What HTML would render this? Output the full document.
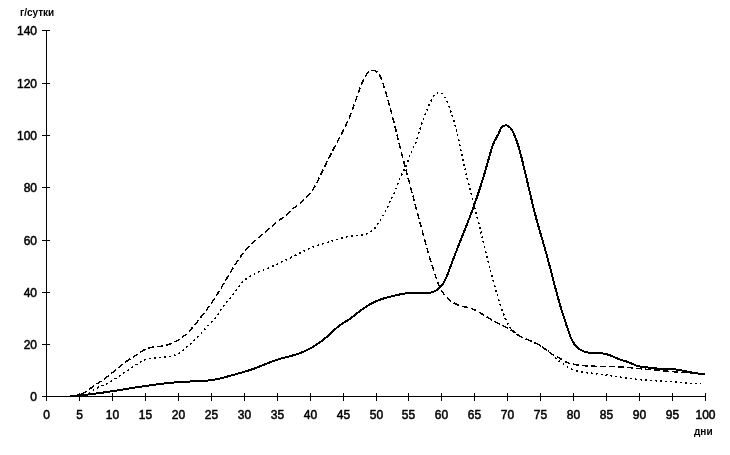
<!DOCTYPE html>
<html><head><meta charset="utf-8"><style>
html,body{margin:0;padding:0;background:#fff;}
body{width:730px;height:455px;position:relative;overflow:hidden;font-family:"Liberation Sans",sans-serif;color:#000;}
.yl{position:absolute;left:0;width:37px;text-align:right;font-size:12px;line-height:14px;-webkit-text-stroke:0.5px #000;}
.xl{position:absolute;top:408px;width:31px;text-align:center;font-size:12px;line-height:14px;-webkit-text-stroke:0.5px #000;}
.t{position:absolute;font-weight:bold;font-size:10px;line-height:12px;}
svg{position:absolute;left:0;top:0;}
.lab{position:absolute;left:0;top:0;width:730px;height:455px;will-change:transform;}
</style></head><body>
<svg width="730" height="455" viewBox="0 0 730 455">
<g stroke="#000" stroke-width="1" fill="none" shape-rendering="crispEdges">
<line x1="46.5" y1="30" x2="46.5" y2="397"/>
<line x1="46" y1="396.5" x2="706" y2="396.5"/>
<line x1="42" y1="30.5" x2="50" y2="30.5"/><line x1="42" y1="83.5" x2="50" y2="83.5"/><line x1="42" y1="135.5" x2="50" y2="135.5"/><line x1="42" y1="187.5" x2="50" y2="187.5"/><line x1="42" y1="240.5" x2="50" y2="240.5"/><line x1="42" y1="292.5" x2="50" y2="292.5"/><line x1="42" y1="344.5" x2="50" y2="344.5"/><line x1="42" y1="396.5" x2="46" y2="396.5"/><line x1="46.5" y1="393" x2="46.5" y2="401"/><line x1="79.5" y1="393" x2="79.5" y2="401"/><line x1="112.5" y1="393" x2="112.5" y2="401"/><line x1="145.5" y1="393" x2="145.5" y2="401"/><line x1="178.5" y1="393" x2="178.5" y2="401"/><line x1="211.5" y1="393" x2="211.5" y2="401"/><line x1="244.5" y1="393" x2="244.5" y2="401"/><line x1="277.5" y1="393" x2="277.5" y2="401"/><line x1="310.5" y1="393" x2="310.5" y2="401"/><line x1="343.5" y1="393" x2="343.5" y2="401"/><line x1="376.5" y1="393" x2="376.5" y2="401"/><line x1="408.5" y1="393" x2="408.5" y2="401"/><line x1="441.5" y1="393" x2="441.5" y2="401"/><line x1="474.5" y1="393" x2="474.5" y2="401"/><line x1="507.5" y1="393" x2="507.5" y2="401"/><line x1="540.5" y1="393" x2="540.5" y2="401"/><line x1="573.5" y1="393" x2="573.5" y2="401"/><line x1="606.5" y1="393" x2="606.5" y2="401"/><line x1="639.5" y1="393" x2="639.5" y2="401"/><line x1="672.5" y1="393" x2="672.5" y2="401"/><line x1="705.5" y1="393" x2="705.5" y2="401"/>
</g>
<g fill="none" stroke="#000" stroke-width="2" stroke-linejoin="round" shape-rendering="crispEdges">
<path d="M69.99,395.95 L71.49,395.87 L72.99,395.79 L74.50,395.69 L76.00,395.59 L77.50,395.48 L79.00,395.36 L80.49,395.23 L81.99,395.10 L83.49,394.96 L84.99,394.81 L86.48,394.65 L87.98,394.49 L89.47,394.33 L90.97,394.15 L92.46,393.97 L93.96,393.79 L95.45,393.60 L96.94,393.41 L98.43,393.21 L99.92,393.01 L101.41,392.80 L102.90,392.59 L104.39,392.38 L105.88,392.16 L107.37,391.94 L108.85,391.72 L110.34,391.49 L111.83,391.26 L113.32,391.03 L114.80,390.80 L116.29,390.57 L117.77,390.33 L119.26,390.10 L120.75,389.86 L122.23,389.62 L123.72,389.38 L125.20,389.14 L126.69,388.90 L128.17,388.67 L129.66,388.43 L131.14,388.19 L132.63,387.95 L134.11,387.72 L135.60,387.48 L137.09,387.25 L138.57,387.02 L140.06,386.79 L141.55,386.56 L143.03,386.33 L144.52,386.11 L146.01,385.89 L147.50,385.67 L148.99,385.45 L150.47,385.24 L151.96,385.04 L153.46,384.83 L154.95,384.63 L156.44,384.44 L157.93,384.24 L159.42,384.06 L160.92,383.87 L162.41,383.70 L163.90,383.52 L165.40,383.36 L166.89,383.19 L168.39,383.04 L169.89,382.89 L171.38,382.74 L172.88,382.60 L174.38,382.47 L175.88,382.34 L177.38,382.22 L178.88,382.11 L180.38,382.00 L181.88,381.90 L183.38,381.81 L184.88,381.73 L186.39,381.65 L187.89,381.58 L189.39,381.52 L190.90,381.46 L192.40,381.41 L193.90,381.36 L195.41,381.30 L196.91,381.25 L198.41,381.19 L199.91,381.12 L201.42,381.04 L202.92,380.95 L204.42,380.84 L205.92,380.72 L207.42,380.58 L208.91,380.42 L210.40,380.23 L211.89,380.02 L213.38,379.78 L214.86,379.52 L216.34,379.23 L217.81,378.93 L219.28,378.60 L220.74,378.26 L222.21,377.90 L223.66,377.54 L225.12,377.16 L226.57,376.77 L228.02,376.37 L229.47,375.97 L230.92,375.56 L232.37,375.15 L233.82,374.75 L235.27,374.34 L236.71,373.93 L238.16,373.53 L239.61,373.12 L241.06,372.70 L242.50,372.29 L243.95,371.86 L245.39,371.43 L246.83,370.99 L248.26,370.55 L249.70,370.09 L251.12,369.62 L252.55,369.14 L253.97,368.64 L255.39,368.13 L256.80,367.61 L258.20,367.07 L259.60,366.52 L261.00,365.97 L262.39,365.40 L263.79,364.84 L265.18,364.27 L266.58,363.71 L267.97,363.15 L269.37,362.59 L270.77,362.05 L272.18,361.51 L273.59,360.99 L275.01,360.49 L276.43,360.00 L277.86,359.54 L279.30,359.10 L280.74,358.68 L282.19,358.27 L283.64,357.87 L285.09,357.47 L286.55,357.09 L288.00,356.70 L289.45,356.31 L290.91,355.92 L292.36,355.51 L293.80,355.09 L295.24,354.66 L296.67,354.20 L298.10,353.72 L299.52,353.22 L300.92,352.69 L302.32,352.13 L303.71,351.54 L305.08,350.93 L306.44,350.30 L307.80,349.64 L309.13,348.95 L310.46,348.24 L311.78,347.51 L313.08,346.75 L314.36,345.97 L315.64,345.18 L316.90,344.36 L318.15,343.51 L319.38,342.65 L320.60,341.77 L321.81,340.87 L323.00,339.95 L324.17,339.02 L325.34,338.06 L326.48,337.09 L327.62,336.10 L328.74,335.10 L329.85,334.08 L330.95,333.06 L332.05,332.04 L333.16,331.02 L334.27,330.00 L335.39,329.00 L336.53,328.01 L337.68,327.05 L338.85,326.10 L340.05,325.19 L341.27,324.32 L342.53,323.48 L343.80,322.68 L345.08,321.89 L346.36,321.11 L347.65,320.33 L348.92,319.52 L350.17,318.68 L351.39,317.80 L352.58,316.89 L353.76,315.95 L354.92,315.00 L356.08,314.04 L357.26,313.10 L358.44,312.17 L359.63,311.26 L360.84,310.36 L362.06,309.47 L363.28,308.60 L364.53,307.75 L365.78,306.92 L367.05,306.11 L368.33,305.33 L369.63,304.56 L370.94,303.82 L372.26,303.11 L373.60,302.43 L374.96,301.78 L376.33,301.15 L377.71,300.56 L379.11,300.01 L380.52,299.49 L381.94,298.99 L383.37,298.53 L384.81,298.09 L386.25,297.67 L387.70,297.27 L389.16,296.89 L390.62,296.52 L392.08,296.17 L393.54,295.83 L395.01,295.49 L396.48,295.16 L397.95,294.84 L399.42,294.53 L400.90,294.23 L402.37,293.95 L403.86,293.70 L405.34,293.46 L406.83,293.26 L408.33,293.08 L409.82,292.93 L411.32,292.82 L412.82,292.74 L414.33,292.70 L415.83,292.70 L417.34,292.74 L418.84,292.81 L420.34,292.89 L421.84,292.97 L423.35,293.04 L424.85,293.08 L426.35,293.07 L427.86,293.00 L429.35,292.85 L430.84,292.59 L432.29,292.22 L433.71,291.70 L435.06,291.06 L436.36,290.30 L437.59,289.44 L438.76,288.49 L439.86,287.46 L440.89,286.37 L441.86,285.21 L442.75,284.00 L443.58,282.75 L444.35,281.46 L445.06,280.13 L445.73,278.78 L446.35,277.41 L446.93,276.03 L447.49,274.63 L448.02,273.22 L448.54,271.81 L449.06,270.40 L449.58,268.98 L450.10,267.57 L450.62,266.16 L451.14,264.75 L451.67,263.34 L452.20,261.94 L452.73,260.53 L453.27,259.12 L453.81,257.72 L454.35,256.31 L454.89,254.91 L455.43,253.51 L455.97,252.10 L456.52,250.70 L457.07,249.30 L457.62,247.90 L458.17,246.50 L458.72,245.10 L459.27,243.70 L459.83,242.30 L460.38,240.91 L460.94,239.51 L461.49,238.11 L462.05,236.71 L462.60,235.31 L463.16,233.92 L463.71,232.52 L464.27,231.12 L464.82,229.72 L465.37,228.32 L465.93,226.92 L466.48,225.52 L467.02,224.12 L467.57,222.72 L468.11,221.32 L468.66,219.91 L469.20,218.51 L469.74,217.11 L470.27,215.70 L470.80,214.29 L471.33,212.88 L471.86,211.47 L472.38,210.06 L472.90,208.65 L473.41,207.24 L473.92,205.82 L474.43,204.41 L474.93,202.99 L475.43,201.57 L475.92,200.15 L476.41,198.73 L476.90,197.30 L477.39,195.88 L477.87,194.45 L478.34,193.03 L478.82,191.60 L479.29,190.17 L479.75,188.74 L480.21,187.31 L480.67,185.88 L481.13,184.44 L481.58,183.01 L482.03,181.57 L482.48,180.13 L482.92,178.70 L483.36,177.26 L483.80,175.82 L484.23,174.38 L484.66,172.94 L485.09,171.50 L485.52,170.05 L485.94,168.61 L486.36,167.16 L486.78,165.72 L487.19,164.27 L487.60,162.83 L488.01,161.38 L488.42,159.93 L488.82,158.48 L489.23,157.03 L489.63,155.58 L490.03,154.13 L490.44,152.69 L490.87,151.24 L491.30,149.80 L491.76,148.37 L492.24,146.94 L492.75,145.53 L493.29,144.12 L493.86,142.73 L494.47,141.36 L495.13,140.00 L495.82,138.67 L496.57,137.36 L497.33,136.07 L498.08,134.76 L498.75,133.42 L499.31,132.02 L499.82,130.61 L500.42,129.23 L501.20,127.94 L502.23,126.85 L503.46,125.99 L504.85,125.45 L506.35,125.38 L507.77,125.83 L509.04,126.65 L510.13,127.67 L511.08,128.84 L511.90,130.10 L512.62,131.42 L513.28,132.77 L513.90,134.14 L514.51,135.52 L515.09,136.91 L515.64,138.30 L516.18,139.71 L516.70,141.12 L517.19,142.54 L517.67,143.97 L518.14,145.40 L518.58,146.84 L519.02,148.28 L519.43,149.72 L519.84,151.17 L520.24,152.62 L520.62,154.07 L521.00,155.53 L521.38,156.99 L521.74,158.45 L522.10,159.91 L522.46,161.37 L522.82,162.83 L523.17,164.29 L523.53,165.75 L523.88,167.22 L524.23,168.68 L524.58,170.14 L524.93,171.61 L525.27,173.07 L525.62,174.53 L525.97,176.00 L526.31,177.46 L526.66,178.93 L527.00,180.39 L527.35,181.85 L527.69,183.32 L528.03,184.78 L528.38,186.25 L528.72,187.71 L529.06,189.18 L529.40,190.64 L529.75,192.11 L530.09,193.57 L530.44,195.04 L530.78,196.50 L531.13,197.96 L531.48,199.43 L531.83,200.89 L532.19,202.35 L532.54,203.81 L532.90,205.27 L533.26,206.74 L533.62,208.20 L533.98,209.65 L534.35,211.11 L534.72,212.57 L535.10,214.03 L535.47,215.48 L535.86,216.94 L536.24,218.39 L536.63,219.85 L537.02,221.30 L537.42,222.75 L537.82,224.20 L538.23,225.65 L538.64,227.09 L539.05,228.54 L539.47,229.99 L539.89,231.43 L540.31,232.88 L540.73,234.32 L541.16,235.76 L541.58,237.21 L542.01,238.65 L542.43,240.09 L542.86,241.53 L543.28,242.98 L543.70,244.42 L544.12,245.87 L544.54,247.31 L544.96,248.76 L545.37,250.20 L545.78,251.65 L546.18,253.10 L546.58,254.55 L546.98,256.00 L547.37,257.45 L547.77,258.91 L548.16,260.36 L548.55,261.81 L548.93,263.27 L549.32,264.72 L549.70,266.18 L550.08,267.63 L550.46,269.09 L550.84,270.54 L551.21,272.00 L551.59,273.45 L551.97,274.91 L552.35,276.37 L552.72,277.82 L553.10,279.28 L553.48,280.74 L553.86,282.19 L554.24,283.65 L554.62,285.10 L555.00,286.56 L555.38,288.01 L555.77,289.47 L556.15,290.92 L556.54,292.37 L556.94,293.83 L557.33,295.28 L557.73,296.73 L558.13,298.18 L558.53,299.63 L558.94,301.07 L559.35,302.52 L559.77,303.97 L560.19,305.41 L560.61,306.86 L561.04,308.30 L561.47,309.74 L561.91,311.18 L562.35,312.61 L562.80,314.05 L563.26,315.48 L563.72,316.92 L564.19,318.35 L564.66,319.78 L565.13,321.20 L565.61,322.63 L566.09,324.05 L566.57,325.48 L567.05,326.91 L567.53,328.33 L568.00,329.76 L568.47,331.19 L568.95,332.62 L569.44,334.04 L569.95,335.45 L570.50,336.85 L571.08,338.24 L571.71,339.60 L572.40,340.94 L573.16,342.24 L573.98,343.50 L574.88,344.70 L575.86,345.85 L576.92,346.92 L578.04,347.92 L579.22,348.85 L580.47,349.69 L581.77,350.45 L583.12,351.11 L584.51,351.67 L585.95,352.12 L587.41,352.47 L588.89,352.73 L590.39,352.91 L591.89,353.02 L593.39,353.09 L594.89,353.12 L596.40,353.14 L597.90,353.17 L599.41,353.21 L600.91,353.28 L602.41,353.41 L603.90,353.61 L605.37,353.89 L606.83,354.27 L608.27,354.72 L609.68,355.23 L611.08,355.78 L612.47,356.37 L613.85,356.96 L615.23,357.56 L616.62,358.14 L618.01,358.70 L619.42,359.22 L620.85,359.71 L622.28,360.18 L623.71,360.64 L625.14,361.10 L626.57,361.56 L627.99,362.05 L629.41,362.56 L630.81,363.11 L632.19,363.71 L633.55,364.35 L634.91,365.00 L636.29,365.60 L637.71,366.10 L639.17,366.44 L640.66,366.65 L642.16,366.79 L643.66,366.91 L645.15,367.05 L646.65,367.24 L648.13,367.48 L649.62,367.72 L651.10,367.95 L652.60,368.13 L654.09,368.29 L655.59,368.40 L657.09,368.50 L658.60,368.57 L660.10,368.62 L661.60,368.66 L663.11,368.70 L664.61,368.73 L666.12,368.77 L667.62,368.83 L669.12,368.89 L670.62,368.98 L672.12,369.09 L673.62,369.23 L675.12,369.41 L676.61,369.61 L678.09,369.84 L679.58,370.09 L681.06,370.36 L682.53,370.64 L684.01,370.93 L685.48,371.23 L686.96,371.53 L688.43,371.83 L689.91,372.13 L691.38,372.42 L692.86,372.70 L694.34,372.96 L695.83,373.20 L697.31,373.42 L698.81,373.62 L700.30,373.78 L701.80,373.92 L703.30,374.01 L704.80,374.07"/>
<path d="M73.00,395.60 L74.50,395.74 L76.00,395.72 L77.49,395.54 L78.95,395.22 L80.38,394.74 L81.76,394.15 L83.09,393.45 L84.38,392.68 L85.63,391.85 L86.86,390.98 L88.07,390.10 L89.28,389.20 L90.50,388.32 L91.73,387.46 L92.96,386.60 L94.21,385.76 L95.45,384.92 L96.71,384.09 L97.96,383.26 L99.21,382.43 L100.46,381.59 L101.70,380.75 L102.94,379.90 L104.16,379.03 L105.38,378.15 L106.58,377.25 L107.77,376.33 L108.96,375.40 L110.13,374.46 L111.30,373.51 L112.46,372.56 L113.61,371.60 L114.77,370.64 L115.92,369.68 L117.08,368.72 L118.23,367.76 L119.39,366.80 L120.56,365.86 L121.74,364.92 L122.92,364.00 L124.12,363.09 L125.32,362.19 L126.54,361.31 L127.78,360.46 L129.03,359.63 L130.29,358.81 L131.57,358.02 L132.85,357.23 L134.13,356.44 L135.40,355.65 L136.67,354.84 L137.92,354.00 L139.16,353.15 L140.39,352.30 L141.64,351.46 L142.91,350.65 L144.20,349.90 L145.54,349.22 L146.93,348.64 L148.35,348.16 L149.81,347.77 L151.28,347.47 L152.76,347.22 L154.25,347.02 L155.74,346.85 L157.24,346.69 L158.73,346.54 L160.22,346.37 L161.71,346.18 L163.20,345.95 L164.67,345.66 L166.14,345.32 L167.58,344.92 L169.02,344.47 L170.43,343.96 L171.83,343.41 L173.21,342.81 L174.56,342.16 L175.89,341.46 L177.20,340.72 L178.49,339.95 L179.75,339.13 L180.98,338.27 L182.19,337.37 L183.37,336.45 L184.53,335.49 L185.66,334.50 L186.76,333.48 L187.85,332.44 L188.91,331.38 L189.96,330.30 L190.98,329.20 L191.99,328.09 L192.98,326.96 L193.96,325.82 L194.93,324.67 L195.88,323.51 L196.83,322.34 L197.77,321.17 L198.70,319.99 L199.63,318.81 L200.55,317.63 L201.48,316.44 L202.39,315.25 L203.31,314.06 L204.22,312.86 L205.12,311.66 L206.02,310.46 L206.92,309.25 L207.81,308.04 L208.69,306.83 L209.57,305.61 L210.44,304.38 L211.31,303.16 L212.17,301.92 L213.02,300.69 L213.87,299.44 L214.70,298.20 L215.53,296.94 L216.35,295.68 L217.16,294.42 L217.97,293.15 L218.76,291.88 L219.55,290.60 L220.34,289.31 L221.11,288.03 L221.88,286.74 L222.65,285.45 L223.42,284.15 L224.18,282.86 L224.94,281.56 L225.70,280.27 L226.46,278.97 L227.22,277.67 L227.98,276.38 L228.74,275.08 L229.50,273.79 L230.27,272.50 L231.04,271.21 L231.82,269.92 L232.60,268.64 L233.39,267.36 L234.19,266.09 L234.99,264.82 L235.81,263.55 L236.63,262.29 L237.46,261.04 L238.30,259.80 L239.16,258.56 L240.02,257.34 L240.90,256.12 L241.80,254.91 L242.71,253.71 L243.63,252.53 L244.57,251.36 L245.53,250.20 L246.50,249.06 L247.50,247.93 L248.51,246.82 L249.54,245.72 L250.59,244.65 L251.66,243.59 L252.74,242.56 L253.85,241.54 L254.98,240.55 L256.12,239.57 L257.27,238.60 L258.43,237.65 L259.60,236.70 L260.77,235.76 L261.94,234.82 L263.11,233.87 L264.27,232.93 L265.43,231.97 L266.59,231.01 L267.73,230.03 L268.86,229.04 L269.99,228.05 L271.11,227.05 L272.24,226.06 L273.37,225.07 L274.50,224.08 L275.65,223.11 L276.81,222.16 L277.99,221.23 L279.19,220.32 L280.41,219.44 L281.64,218.59 L282.88,217.74 L284.11,216.87 L285.31,215.96 L286.47,215.01 L287.58,214.00 L288.66,212.96 L289.73,211.90 L290.80,210.84 L291.87,209.79 L292.98,208.78 L294.12,207.80 L295.30,206.86 L296.49,205.95 L297.69,205.04 L298.89,204.14 L300.08,203.22 L301.25,202.28 L302.39,201.31 L303.52,200.31 L304.62,199.29 L305.69,198.24 L306.74,197.16 L307.76,196.06 L308.76,194.93 L309.72,193.78 L310.65,192.59 L311.54,191.39 L312.40,190.15 L313.22,188.90 L314.01,187.62 L314.77,186.32 L315.51,185.02 L316.23,183.69 L316.92,182.36 L317.61,181.02 L318.28,179.68 L318.94,178.33 L319.59,176.98 L320.25,175.63 L320.90,174.27 L321.56,172.92 L322.22,171.57 L322.87,170.22 L323.53,168.87 L324.19,167.52 L324.86,166.17 L325.52,164.82 L326.18,163.48 L326.85,162.13 L327.52,160.78 L328.19,159.44 L328.87,158.10 L329.55,156.76 L330.23,155.42 L330.91,154.08 L331.60,152.74 L332.29,151.41 L332.99,150.08 L333.69,148.75 L334.39,147.42 L335.09,146.09 L335.79,144.76 L336.50,143.44 L337.20,142.11 L337.91,140.78 L338.61,139.45 L339.32,138.13 L340.02,136.80 L340.71,135.47 L341.41,134.13 L342.09,132.80 L342.78,131.46 L343.46,130.12 L344.13,128.77 L344.79,127.43 L345.45,126.08 L346.10,124.72 L346.74,123.36 L347.38,122.00 L348.00,120.63 L348.61,119.26 L349.21,117.88 L349.79,116.50 L350.37,115.11 L350.93,113.71 L351.47,112.31 L352.00,110.91 L352.52,109.50 L353.03,108.09 L353.53,106.67 L354.03,105.25 L354.51,103.83 L355.00,102.41 L355.48,100.98 L355.96,99.56 L356.44,98.13 L356.92,96.71 L357.40,95.29 L357.89,93.87 L358.39,92.45 L358.90,91.04 L359.42,89.63 L359.94,88.22 L360.49,86.82 L361.04,85.42 L361.62,84.03 L362.21,82.65 L362.82,81.28 L363.46,79.92 L364.12,78.57 L364.82,77.24 L365.55,75.93 L366.32,74.64 L367.17,73.40 L368.18,72.29 L369.39,71.41 L370.77,70.82 L372.24,70.51 L373.74,70.51 L375.19,70.87 L376.50,71.60 L377.64,72.58 L378.60,73.73 L379.42,74.99 L380.15,76.31 L380.79,77.66 L381.39,79.04 L381.93,80.44 L382.44,81.86 L382.93,83.28 L383.39,84.71 L383.85,86.14 L384.31,87.57 L384.75,89.00 L385.20,90.44 L385.64,91.88 L386.07,93.31 L386.50,94.75 L386.92,96.20 L387.34,97.64 L387.76,99.08 L388.17,100.53 L388.58,101.97 L388.98,103.42 L389.38,104.87 L389.78,106.32 L390.17,107.77 L390.56,109.22 L390.95,110.67 L391.33,112.13 L391.71,113.58 L392.09,115.03 L392.47,116.49 L392.84,117.94 L393.21,119.40 L393.58,120.86 L393.95,122.31 L394.32,123.77 L394.68,125.23 L395.05,126.68 L395.41,128.14 L395.77,129.60 L396.13,131.06 L396.49,132.52 L396.85,133.98 L397.21,135.44 L397.57,136.90 L397.93,138.35 L398.29,139.81 L398.65,141.27 L399.01,142.73 L399.37,144.19 L399.73,145.65 L400.09,147.11 L400.46,148.56 L400.82,150.02 L401.19,151.48 L401.55,152.94 L401.92,154.39 L402.29,155.85 L402.67,157.31 L403.04,158.76 L403.41,160.22 L403.79,161.67 L404.17,163.13 L404.54,164.58 L404.92,166.03 L405.30,167.49 L405.68,168.94 L406.07,170.39 L406.45,171.85 L406.83,173.30 L407.22,174.75 L407.60,176.20 L407.99,177.66 L408.38,179.11 L408.76,180.56 L409.15,182.01 L409.54,183.46 L409.93,184.92 L410.32,186.37 L410.71,187.82 L411.09,189.27 L411.48,190.72 L411.87,192.17 L412.27,193.62 L412.66,195.07 L413.05,196.52 L413.44,197.98 L413.83,199.43 L414.22,200.88 L414.61,202.33 L415.00,203.78 L415.39,205.23 L415.77,206.68 L416.16,208.13 L416.55,209.59 L416.94,211.04 L417.33,212.49 L417.71,213.94 L418.10,215.39 L418.49,216.84 L418.87,218.30 L419.26,219.75 L419.64,221.20 L420.03,222.65 L420.42,224.11 L420.80,225.56 L421.19,227.01 L421.58,228.46 L421.97,229.91 L422.36,231.36 L422.75,232.81 L423.14,234.26 L423.53,235.71 L423.93,237.16 L424.32,238.61 L424.72,240.06 L425.12,241.51 L425.52,242.96 L425.92,244.41 L426.33,245.85 L426.73,247.30 L427.14,248.75 L427.55,250.19 L427.97,251.64 L428.38,253.08 L428.80,254.52 L429.23,255.97 L429.65,257.41 L430.08,258.85 L430.51,260.29 L430.94,261.73 L431.38,263.16 L431.82,264.60 L432.26,266.04 L432.71,267.47 L433.16,268.90 L433.62,270.33 L434.08,271.77 L434.54,273.20 L435.01,274.62 L435.48,276.05 L435.96,277.47 L436.45,278.89 L436.95,280.31 L437.48,281.72 L438.03,283.12 L438.60,284.51 L439.20,285.88 L439.83,287.25 L440.50,288.59 L441.21,289.92 L441.96,291.22 L442.76,292.49 L443.60,293.73 L444.50,294.94 L445.45,296.10 L446.46,297.22 L447.51,298.28 L448.63,299.29 L449.79,300.25 L450.99,301.15 L452.24,301.99 L453.52,302.77 L454.83,303.50 L456.18,304.16 L457.55,304.77 L458.95,305.32 L460.38,305.80 L461.82,306.22 L463.28,306.57 L464.75,306.89 L466.22,307.19 L467.69,307.50 L469.15,307.85 L470.59,308.28 L472.01,308.78 L473.40,309.34 L474.77,309.97 L476.11,310.64 L477.44,311.34 L478.75,312.08 L480.04,312.84 L481.33,313.62 L482.61,314.40 L483.89,315.19 L485.18,315.97 L486.47,316.74 L487.76,317.50 L489.06,318.26 L490.36,319.01 L491.66,319.76 L492.98,320.49 L494.29,321.22 L495.61,321.94 L496.93,322.65 L498.26,323.36 L499.59,324.05 L500.93,324.74 L502.27,325.42 L503.61,326.09 L504.96,326.76 L506.30,327.42 L507.64,328.11 L508.97,328.81 L510.27,329.56 L511.55,330.35 L512.79,331.20 L514.00,332.08 L515.21,332.98 L516.41,333.88 L517.64,334.75 L518.90,335.57 L520.20,336.32 L521.54,337.01 L522.90,337.64 L524.28,338.24 L525.66,338.81 L527.06,339.38 L528.45,339.94 L529.84,340.51 L531.22,341.10 L532.60,341.70 L533.97,342.32 L535.32,342.97 L536.67,343.64 L537.99,344.35 L539.30,345.08 L540.59,345.86 L541.86,346.67 L543.09,347.52 L544.30,348.42 L545.48,349.34 L546.65,350.29 L547.82,351.23 L549.00,352.16 L550.20,353.07 L551.42,353.94 L552.69,354.75 L554.00,355.49 L555.35,356.14 L556.72,356.76 L558.08,357.39 L559.42,358.08 L560.71,358.84 L561.98,359.64 L563.25,360.45 L564.54,361.22 L565.87,361.92 L567.24,362.53 L568.65,363.05 L570.09,363.48 L571.55,363.85 L573.02,364.16 L574.49,364.44 L575.98,364.68 L577.46,364.91 L578.95,365.11 L580.44,365.29 L581.94,365.46 L583.43,365.60 L584.93,365.73 L586.43,365.85 L587.93,365.95 L589.43,366.04 L590.93,366.11 L592.43,366.18 L593.93,366.23 L595.43,366.28 L596.93,366.32 L598.43,366.36 L599.94,366.39 L601.44,366.41 L602.94,366.44 L604.44,366.46 L605.95,366.49 L607.45,366.51 L608.95,366.54 L610.45,366.57 L611.96,366.61 L613.46,366.65 L614.96,366.70 L616.46,366.75 L617.96,366.82 L619.46,366.90 L620.96,366.98 L622.46,367.08 L623.96,367.18 L625.46,367.30 L626.96,367.42 L628.45,367.54 L629.95,367.67 L631.45,367.81 L632.94,367.95 L634.44,368.10 L635.93,368.25 L637.43,368.40 L638.92,368.55 L640.42,368.70 L641.91,368.85 L643.41,369.00 L644.90,369.15 L646.40,369.30 L647.89,369.45 L649.39,369.59 L650.89,369.73 L652.38,369.87 L653.88,370.01 L655.37,370.15 L656.87,370.29 L658.37,370.42 L659.86,370.55 L661.36,370.68 L662.86,370.81 L664.36,370.94 L665.85,371.07 L667.35,371.19 L668.85,371.32 L670.35,371.44 L671.84,371.56 L673.34,371.68 L674.84,371.80 L676.34,371.92 L677.83,372.04 L679.33,372.16 L680.83,372.27 L682.33,372.39 L683.83,372.50 L685.32,372.62 L686.82,372.73 L688.32,372.85 L689.82,372.96 L691.32,373.07 L692.82,373.18 L694.31,373.30 L695.81,373.41 L697.31,373.52 L698.81,373.63 L700.31,373.75 L701.81,373.86 L703.30,373.97 L704.80,374.08" stroke-dasharray="6 3" stroke-width="1.5"/>
<path d="M79.00,395.20 L80.49,395.43 L81.99,395.47 L83.48,395.31 L84.95,394.97 L86.36,394.46 L87.73,393.82 L89.04,393.09 L90.31,392.29 L91.56,391.46 L92.80,390.60 L94.04,389.75 L95.30,388.94 L96.60,388.17 L97.94,387.48 L99.32,386.89 L100.72,386.35 L102.14,385.84 L103.54,385.31 L104.93,384.72 L106.29,384.09 L107.63,383.40 L108.95,382.68 L110.25,381.93 L111.54,381.15 L112.81,380.34 L114.07,379.52 L115.32,378.69 L116.57,377.86 L117.82,377.02 L119.07,376.18 L120.32,375.34 L121.57,374.50 L122.82,373.66 L124.06,372.82 L125.31,371.98 L126.56,371.14 L127.81,370.30 L129.05,369.46 L130.30,368.62 L131.55,367.78 L132.79,366.94 L134.04,366.10 L135.29,365.25 L136.54,364.42 L137.80,363.60 L139.07,362.80 L140.37,362.04 L141.69,361.32 L143.04,360.66 L144.42,360.07 L145.83,359.55 L147.27,359.11 L148.73,358.75 L150.21,358.45 L151.69,358.20 L153.18,358.01 L154.68,357.85 L156.17,357.72 L157.67,357.61 L159.18,357.52 L160.68,357.43 L162.18,357.34 L163.68,357.23 L165.18,357.11 L166.67,356.97 L168.17,356.78 L169.65,356.55 L171.13,356.26 L172.59,355.91 L174.03,355.48 L175.45,354.97 L176.82,354.36 L178.16,353.66 L179.44,352.88 L180.67,352.02 L181.87,351.11 L183.04,350.17 L184.19,349.19 L185.32,348.21 L186.46,347.22 L187.60,346.24 L188.74,345.26 L189.88,344.28 L191.02,343.30 L192.16,342.32 L193.28,341.32 L194.39,340.30 L195.49,339.27 L196.57,338.23 L197.63,337.17 L198.68,336.09 L199.72,335.00 L200.74,333.90 L201.76,332.78 L202.76,331.66 L203.75,330.53 L204.73,329.39 L205.71,328.25 L206.70,327.12 L207.69,325.99 L208.70,324.87 L209.72,323.77 L210.76,322.68 L211.81,321.60 L212.84,320.51 L213.86,319.40 L214.85,318.27 L215.80,317.10 L216.71,315.91 L217.60,314.69 L218.47,313.47 L219.33,312.23 L220.17,310.99 L221.02,309.74 L221.87,308.51 L222.74,307.28 L223.62,306.06 L224.53,304.86 L225.46,303.67 L226.40,302.50 L227.35,301.34 L228.31,300.18 L229.27,299.02 L230.22,297.86 L231.17,296.69 L232.10,295.51 L233.02,294.32 L233.92,293.11 L234.80,291.90 L235.69,290.68 L236.57,289.46 L237.46,288.25 L238.37,287.05 L239.29,285.86 L240.24,284.69 L241.22,283.55 L242.23,282.44 L243.29,281.37 L244.39,280.35 L245.54,279.38 L246.74,278.47 L247.97,277.60 L249.23,276.78 L250.52,276.01 L251.83,275.27 L253.16,274.57 L254.51,273.90 L255.87,273.26 L257.24,272.65 L258.62,272.05 L260.01,271.46 L261.40,270.89 L262.79,270.32 L264.18,269.76 L265.57,269.19 L266.96,268.61 L268.35,268.03 L269.74,267.44 L271.12,266.85 L272.49,266.25 L273.87,265.64 L275.24,265.02 L276.61,264.40 L277.98,263.77 L279.34,263.14 L280.71,262.50 L282.07,261.86 L283.42,261.22 L284.78,260.57 L286.14,259.91 L287.49,259.25 L288.84,258.59 L290.19,257.93 L291.54,257.26 L292.88,256.60 L294.23,255.92 L295.58,255.25 L296.92,254.58 L298.27,253.91 L299.61,253.23 L300.96,252.57 L302.31,251.90 L303.66,251.24 L305.02,250.59 L306.38,249.95 L307.74,249.32 L309.11,248.70 L310.49,248.09 L311.87,247.50 L313.26,246.93 L314.66,246.38 L316.07,245.84 L317.48,245.33 L318.90,244.85 L320.34,244.39 L321.78,243.95 L323.22,243.54 L324.67,243.14 L326.12,242.74 L327.57,242.35 L329.03,241.95 L330.47,241.55 L331.92,241.12 L333.36,240.69 L334.79,240.24 L336.23,239.79 L337.66,239.34 L339.10,238.89 L340.54,238.45 L341.98,238.02 L343.42,237.60 L344.87,237.20 L346.33,236.84 L347.80,236.51 L349.27,236.22 L350.76,235.99 L352.25,235.82 L353.75,235.71 L355.26,235.64 L356.76,235.57 L358.26,235.49 L359.76,235.36 L361.25,235.16 L362.73,234.88 L364.18,234.50 L365.62,234.05 L367.02,233.51 L368.39,232.88 L369.71,232.18 L371.00,231.39 L372.22,230.52 L373.39,229.57 L374.48,228.54 L375.50,227.43 L376.44,226.26 L377.30,225.02 L378.09,223.74 L378.85,222.44 L379.58,221.13 L380.32,219.82 L381.07,218.52 L381.86,217.24 L382.67,215.97 L383.48,214.70 L384.28,213.43 L385.06,212.15 L385.80,210.84 L386.49,209.50 L387.15,208.15 L387.77,206.78 L388.38,205.40 L388.98,204.02 L389.60,202.65 L390.23,201.29 L390.90,199.94 L391.59,198.61 L392.28,197.27 L392.95,195.92 L393.57,194.55 L394.17,193.17 L394.75,191.78 L395.31,190.39 L395.85,188.99 L396.40,187.58 L396.93,186.18 L397.47,184.77 L398.01,183.37 L398.56,181.97 L399.12,180.57 L399.69,179.18 L400.28,177.80 L400.89,176.42 L401.52,175.06 L402.17,173.70 L402.83,172.35 L403.49,171.00 L404.16,169.65 L404.82,168.30 L405.47,166.95 L406.12,165.59 L406.74,164.22 L407.34,162.84 L407.91,161.45 L408.45,160.04 L408.96,158.63 L409.45,157.21 L409.94,155.78 L410.44,154.37 L410.96,152.95 L411.51,151.56 L412.12,150.18 L412.78,148.83 L413.48,147.50 L414.18,146.17 L414.84,144.82 L415.43,143.43 L415.95,142.02 L416.41,140.59 L416.83,139.15 L417.24,137.70 L417.64,136.25 L418.05,134.80 L418.48,133.36 L418.92,131.92 L419.38,130.49 L419.86,129.06 L420.35,127.64 L420.84,126.22 L421.35,124.81 L421.87,123.39 L422.39,121.98 L422.92,120.58 L423.45,119.17 L423.98,117.76 L424.52,116.36 L425.05,114.95 L425.59,113.55 L426.12,112.14 L426.67,110.74 L427.22,109.34 L427.79,107.95 L428.37,106.56 L428.97,105.18 L429.59,103.81 L430.24,102.45 L430.91,101.11 L431.62,99.78 L432.35,98.47 L433.12,97.18 L433.97,95.94 L434.93,94.78 L436.05,93.78 L437.34,93.01 L438.77,92.55 L440.26,92.51 L441.66,93.03 L442.82,93.99 L443.77,95.15 L444.59,96.41 L445.33,97.72 L445.99,99.07 L446.60,100.44 L447.16,101.84 L447.70,103.24 L448.24,104.65 L448.78,106.05 L449.33,107.45 L449.86,108.86 L450.39,110.26 L450.91,111.68 L451.42,113.09 L451.91,114.52 L452.38,115.94 L452.84,117.37 L453.29,118.81 L453.73,120.25 L454.15,121.69 L454.57,123.14 L454.97,124.59 L455.36,126.04 L455.74,127.49 L456.11,128.95 L456.48,130.41 L456.83,131.87 L457.18,133.33 L457.52,134.80 L457.86,136.27 L458.19,137.73 L458.51,139.20 L458.83,140.67 L459.15,142.14 L459.46,143.61 L459.77,145.08 L460.08,146.56 L460.39,148.03 L460.70,149.50 L461.00,150.97 L461.31,152.44 L461.62,153.92 L461.93,155.39 L462.24,156.86 L462.55,158.33 L462.87,159.80 L463.19,161.27 L463.52,162.74 L463.85,164.21 L464.18,165.67 L464.52,167.14 L464.86,168.60 L465.21,170.07 L465.56,171.53 L465.91,172.99 L466.26,174.45 L466.62,175.91 L466.98,177.37 L467.35,178.83 L467.71,180.29 L468.08,181.75 L468.45,183.21 L468.82,184.67 L469.19,186.12 L469.57,187.58 L469.94,189.04 L470.32,190.49 L470.69,191.95 L471.07,193.40 L471.45,194.86 L471.83,196.32 L472.21,197.77 L472.59,199.23 L472.96,200.68 L473.34,202.14 L473.72,203.59 L474.09,205.05 L474.47,206.51 L474.84,207.96 L475.22,209.42 L475.59,210.88 L475.96,212.34 L476.33,213.79 L476.70,215.25 L477.06,216.71 L477.43,218.17 L477.80,219.63 L478.16,221.09 L478.53,222.55 L478.89,224.01 L479.25,225.46 L479.62,226.92 L479.98,228.38 L480.34,229.84 L480.70,231.30 L481.06,232.76 L481.42,234.22 L481.78,235.69 L482.14,237.15 L482.50,238.61 L482.86,240.07 L483.22,241.53 L483.57,242.99 L483.93,244.45 L484.29,245.91 L484.65,247.37 L485.01,248.83 L485.37,250.29 L485.73,251.75 L486.09,253.21 L486.45,254.67 L486.81,256.13 L487.17,257.59 L487.53,259.05 L487.90,260.51 L488.26,261.97 L488.63,263.43 L489.00,264.89 L489.37,266.34 L489.74,267.80 L490.11,269.26 L490.49,270.72 L490.86,272.17 L491.24,273.63 L491.62,275.08 L492.01,276.54 L492.39,277.99 L492.78,279.44 L493.18,280.89 L493.57,282.34 L493.97,283.79 L494.38,285.24 L494.78,286.69 L495.20,288.14 L495.61,289.58 L496.03,291.03 L496.46,292.47 L496.89,293.91 L497.32,295.35 L497.76,296.79 L498.21,298.23 L498.66,299.66 L499.11,301.09 L499.58,302.52 L500.05,303.95 L500.52,305.38 L501.00,306.81 L501.49,308.23 L501.98,309.65 L502.49,311.07 L503.00,312.48 L503.51,313.89 L504.04,315.30 L504.58,316.71 L505.14,318.10 L505.73,319.48 L506.35,320.85 L507.01,322.21 L507.71,323.54 L508.45,324.85 L509.25,326.12 L510.09,327.37 L510.99,328.57 L511.94,329.74 L512.95,330.85 L514.01,331.92 L515.12,332.93 L516.29,333.88 L517.51,334.76 L518.77,335.57 L520.09,336.31 L521.43,336.97 L522.81,337.59 L524.19,338.17 L525.58,338.75 L526.97,339.32 L528.35,339.92 L529.72,340.55 L531.07,341.20 L532.42,341.87 L533.76,342.55 L535.10,343.24 L536.43,343.94 L537.76,344.64 L539.09,345.34 L540.41,346.06 L541.73,346.79 L543.03,347.54 L544.31,348.33 L545.58,349.14 L546.82,349.99 L548.03,350.88 L549.21,351.81 L550.35,352.80 L551.44,353.83 L552.51,354.89 L553.57,355.96 L554.62,357.03 L555.68,358.09 L556.78,359.13 L557.91,360.12 L559.08,361.06 L560.29,361.95 L561.53,362.81 L562.76,363.66 L564.00,364.52 L565.24,365.37 L566.49,366.21 L567.76,367.02 L569.06,367.78 L570.38,368.49 L571.74,369.13 L573.13,369.70 L574.55,370.22 L575.98,370.67 L577.43,371.08 L578.89,371.43 L580.36,371.74 L581.84,372.02 L583.32,372.26 L584.81,372.47 L586.30,372.66 L587.80,372.83 L589.29,373.00 L590.79,373.15 L592.29,373.31 L593.78,373.46 L595.28,373.63 L596.77,373.80 L598.26,373.98 L599.76,374.17 L601.25,374.36 L602.74,374.56 L604.23,374.76 L605.72,374.97 L607.21,375.18 L608.70,375.40 L610.18,375.61 L611.67,375.83 L613.16,376.06 L614.65,376.28 L616.13,376.50 L617.62,376.72 L619.11,376.95 L620.60,377.17 L622.08,377.38 L623.57,377.60 L625.06,377.81 L626.55,378.02 L628.04,378.23 L629.53,378.42 L631.02,378.62 L632.52,378.80 L634.01,378.98 L635.50,379.16 L637.00,379.32 L638.49,379.48 L639.99,379.62 L641.49,379.76 L642.99,379.89 L644.49,380.01 L645.99,380.12 L647.49,380.23 L648.99,380.33 L650.49,380.43 L651.99,380.52 L653.49,380.61 L654.99,380.69 L656.49,380.78 L658.00,380.86 L659.50,380.94 L661.00,381.03 L662.50,381.12 L664.00,381.21 L665.50,381.30 L667.00,381.40 L668.50,381.50 L670.00,381.61 L671.50,381.72 L673.00,381.84 L674.50,381.97 L676.00,382.11 L677.50,382.25 L678.99,382.40 L680.49,382.54 L681.99,382.69 L683.48,382.83 L684.98,382.97 L686.48,383.10 L687.98,383.23 L689.48,383.34 L690.98,383.44 L692.48,383.53 L693.98,383.61 L695.49,383.67 L696.99,383.71 L698.49,383.73 L700.00,383.73 L701.50,383.70" stroke-dasharray="2 3" stroke-width="1.5"/>
</g>
</svg>
<div class="lab"><div class="t" style="left:20px;top:7px">г/сутки</div>
<div class="t" style="left:694px;top:426px">дни</div>
<div class="yl" style="top:24px">140</div><div class="yl" style="top:77px">120</div><div class="yl" style="top:129px">100</div><div class="yl" style="top:181px">80</div><div class="yl" style="top:234px">60</div><div class="yl" style="top:286px">40</div><div class="yl" style="top:338px">20</div><div class="yl" style="top:390px">0</div>
<div class="xl" style="left:31px">0</div><div class="xl" style="left:64px">5</div><div class="xl" style="left:97px">10</div><div class="xl" style="left:130px">15</div><div class="xl" style="left:163px">20</div><div class="xl" style="left:196px">25</div><div class="xl" style="left:229px">30</div><div class="xl" style="left:262px">35</div><div class="xl" style="left:295px">40</div><div class="xl" style="left:328px">45</div><div class="xl" style="left:361px">50</div><div class="xl" style="left:393px">55</div><div class="xl" style="left:426px">60</div><div class="xl" style="left:459px">65</div><div class="xl" style="left:492px">70</div><div class="xl" style="left:525px">75</div><div class="xl" style="left:558px">80</div><div class="xl" style="left:591px">85</div><div class="xl" style="left:624px">90</div><div class="xl" style="left:657px">95</div><div class="xl" style="left:690px">100</div>
</div>
</body></html>
